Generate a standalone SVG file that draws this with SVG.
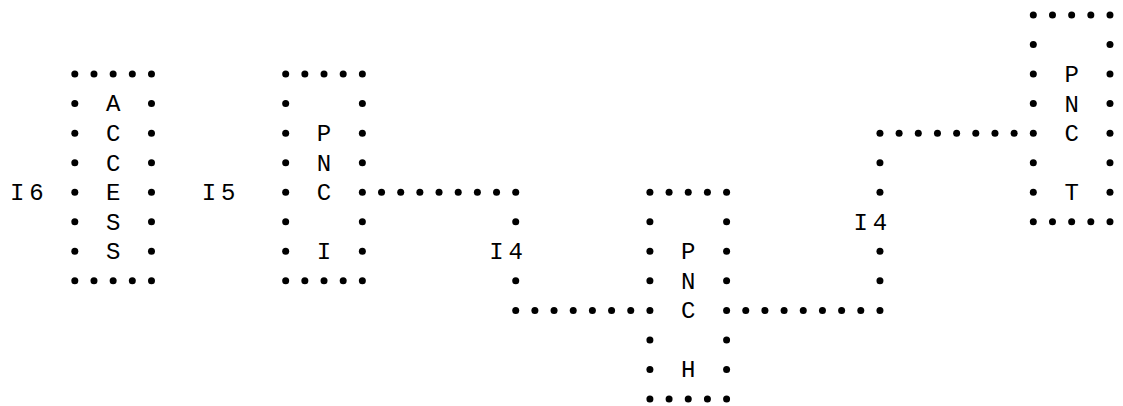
<svg xmlns="http://www.w3.org/2000/svg" xmlns:xlink="http://www.w3.org/1999/xlink" width="1123" height="406" viewBox="0 0 1123 406">
  <style>
    .dots { fill: none; stroke: none; marker-start: url(#dot); marker-mid: url(#dot); marker-end: url(#dot); }
    .t { font-family: "Liberation Mono", "DejaVu Sans Mono", monospace; font-size: 24px; fill: #000; text-anchor: middle; }
  </style>
  <defs>
    <marker id="dot" markerUnits="userSpaceOnUse" markerWidth="8" markerHeight="8" refX="4" refY="4" viewBox="0 0 8 8" overflow="visible">
      <circle cx="4" cy="4" r="3.5" fill="#000"/>
    </marker>
    <path id="box" class="dots" d="M0,0 H19.17 H38.34 H57.51 H76.68 V29.54 V59.08 V88.62 V118.16 V147.7 V177.24 V206.78 H57.51 H38.34 H19.17 H0 V177.24 V147.7 V118.16 V88.62 V59.08 V29.54"/>
  </defs>
  <rect width="1123" height="406" fill="#fff"/>

  <g id="connectors">
    <path class="dots" d="M381.53,192.24 H400.7 H419.87 H439.04 H458.21 H477.38 H496.55 H515.72 V221.78 V280.86 V310.4 H534.89 H554.06 H573.23 H592.4 H611.57 H630.74"/>
    <text class="t" x="496.55 515.72" y="259.2">I4</text>
    <path class="dots" d="M745.76,310.4 H764.93 H784.1 H803.27 H822.44 H841.61 H860.78 H879.95 V280.86 V251.32 V192.24 V162.7 V133.16 H899.12 H918.29 H937.46 H956.63 H975.8 H994.97 H1014.14"/>
    <text class="t" x="860.78 879.95" y="229.7">I4</text>
  </g>

  <g id="node-access">
    <text class="t" x="17.3 36.47" y="200.1">I6</text>
    <g transform="translate(74.81,74.08)">
      <use xlink:href="#box" href="#box"/>
      <text class="t" x="38.34" y="37.4">A</text>
      <text class="t" x="38.34" y="67">C</text>
      <text class="t" x="38.34" y="96.5">C</text>
      <text class="t" x="38.34" y="126.1">E</text>
      <text class="t" x="38.34" y="155.6">S</text>
      <text class="t" x="38.34" y="185.1">S</text>
    </g>
  </g>

  <g id="node-pnc-i">
    <text class="t" x="209 228.17" y="200.1">I5</text>
    <g transform="translate(285.68,74.08)">
      <use xlink:href="#box" href="#box"/>
      <text class="t" x="38.34" y="67">P</text>
      <text class="t" x="38.34" y="96.5">N</text>
      <text class="t" x="38.34" y="126.1">C</text>
      <text class="t" x="38.34" y="185.1">I</text>
    </g>
  </g>

  <g id="node-pnc-h">
    <g transform="translate(649.91,192.24)">
      <use xlink:href="#box" href="#box"/>
      <text class="t" x="38.34" y="67">P</text>
      <text class="t" x="38.34" y="96.5">N</text>
      <text class="t" x="38.34" y="126.1">C</text>
      <text class="t" x="38.34" y="185.1">H</text>
    </g>
  </g>

  <g id="node-pnc-t">
    <g transform="translate(1033.31,15)">
      <use xlink:href="#box" href="#box"/>
      <text class="t" x="38.34" y="67">P</text>
      <text class="t" x="38.34" y="96.5">N</text>
      <text class="t" x="38.34" y="126.1">C</text>
      <text class="t" x="38.34" y="185.1">T</text>
    </g>
  </g>
</svg>
